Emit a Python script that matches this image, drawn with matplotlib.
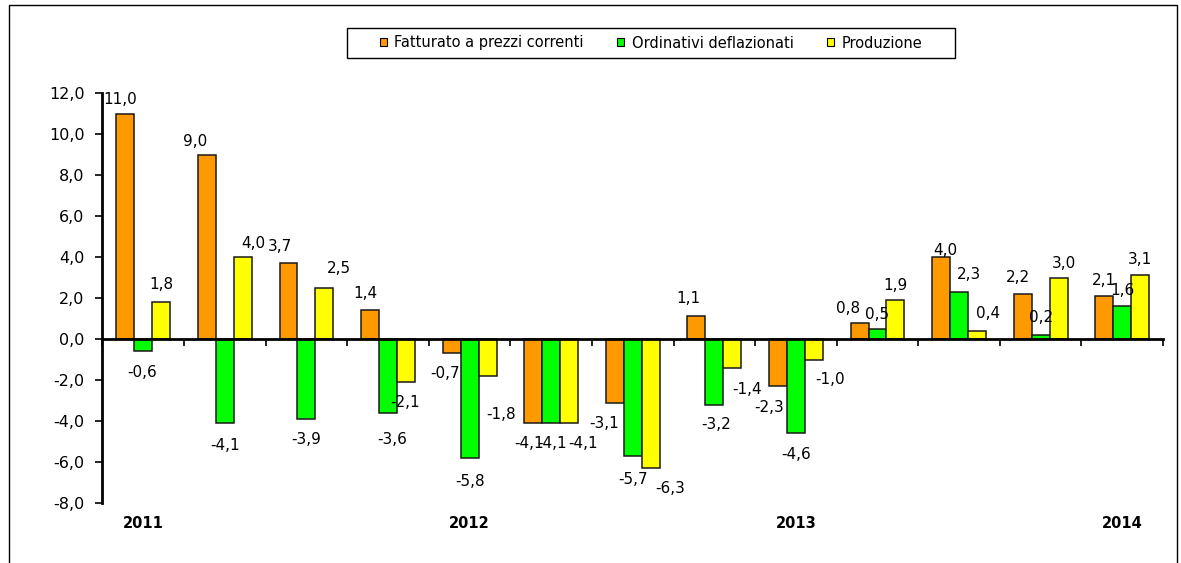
import matplotlib
matplotlib.use("Agg")
import matplotlib.pyplot as plt
import numpy as np
from matplotlib.patches import Rectangle

plt.rcParams['font.family'] = ['DejaVu Sans']

series_names = ["Fatturato a prezzi correnti", "Ordinativi deflazionati", "Produzione"]
fatturato = [11.0, 9.0, 3.7, 1.4, -0.7, -4.1, -3.1, 1.1, -2.3, 0.8, 4.0, 2.2, 2.1]
ordinativi = [-0.6, -4.1, -3.9, -3.6, -5.8, -4.1, -5.7, -3.2, -4.6, 0.5, 2.3, 0.2, 1.6]
produzione = [1.8, 4.0, 2.5, -2.1, -1.8, -4.1, -6.3, -1.4, -1.0, 1.9, 0.4, 3.0, 3.1]
categories = ["2011", "", "", "", "2012", "", "", "", "2013", "", "", "", "2014"]
yticks = [-8, -6, -4, -2, 0, 2, 4, 6, 8, 10, 12]
colors = ["#FF9900", "#00FF00", "#FFFF00"]

# label placement nudges (pixels): horizontal shift and gap from bar end
label_dx = [
    [-5, -12, -9, -5, -7, -4, -11, -8, -9, -11, 4, -5, 0],
    [-1, 0, 0, 4, 0, 1, 0, 2, 0, 0, 10, 0, 0],
    [0, 11, 15, -1, 14, 14, 19, 15, 16, 0, 11, 5, 0],
]
label_gap = [
    [10, 9, 12, 12, 13, 13, 13, 13, 14, 10, 2, 12, 11],
    [14, 15, 13, 19, 16, 13, 16, 12, 14, 10, 13, 13, 11],
    [13, 9, 15, 13, 31, 13, 13, 14, 13, 10, 13, 10, 11],
]

W, H = 1181, 563
fig = plt.figure(figsize=(W / 100, H / 100), dpi=100)
ax_left, ax_right = 102.5, 1163
y_top, y_bot = 93, 503
ax = fig.add_axes([ax_left / W, (H - y_bot) / H, (ax_right - ax_left) / W, (y_bot - y_top) / H])

n = len(categories)
x = np.arange(n)
w = 0.22
data = [fatturato, ordinativi, produzione]
for i, (vals, col, name) in enumerate(zip(data, colors, series_names)):
    xs = x + (i - 1) * w
    ax.bar(xs, vals, width=w, color=col, edgecolor="#1a1a1a", linewidth=1.1, label=name, zorder=2)
    for j, (xi, v) in enumerate(zip(xs, vals)):
        lab = f"{v:.1f}".replace(".", ",")
        dx = label_dx[i][j] * 0.72
        g = label_gap[i][j] * 0.72
        if v >= 0:
            ax.annotate(lab, (xi, v), xytext=(dx, g), textcoords="offset points",
                        ha="center", va="baseline", fontsize=11, zorder=3)
        else:
            ax.annotate(lab, (xi, v), xytext=(dx, -g), textcoords="offset points",
                        ha="center", va="top", fontsize=11, zorder=3)

ax.set_xlim(-0.5, n - 0.5)
ax.set_ylim(-8, 12)
ax.set_yticks(yticks)
ax.set_yticklabels([f"{t:.1f}".replace(".", ",") for t in yticks], fontsize=11.5)
ax.spines['top'].set_visible(False)
ax.spines['right'].set_visible(False)
ax.spines['bottom'].set_position(('data', 0))
ax.spines['bottom'].set_linewidth(2)
ax.spines['left'].set_linewidth(2)
ax.spines['bottom'].set_zorder(4)
ax.set_xticks(np.arange(-0.5, n + 0.5, 1.0))
ax.set_xticklabels([])
ax.tick_params(axis='x', direction='out', length=5, width=1.2)
ax.tick_params(axis='y', direction='out', length=5, width=1.2, pad=8)
ax.patch.set_visible(False)

for xi, c in zip(x, categories):
    if c:
        ax.annotate(c, (xi, -8), xytext=(0, -20 * 0.72), textcoords="offset points",
                    ha="center", va="center", fontsize=10.5, fontweight="bold")

# legend
leg = fig.legend(loc="center", bbox_to_anchor=(651 / W, 1 - 43 / H), ncol=3, frameon=False,
                 fontsize=10.5, handlelength=0.5, handleheight=0.5, handletextpad=0.5,
                 columnspacing=2.3)
for h in leg.legend_handles:
    h.set_edgecolor("black")
    h.set_linewidth(0.8)
fig.patches.append(Rectangle((347 / W, 1 - 58 / H), (955 - 347) / W, 30 / H,
                             transform=fig.transFigure, fill=False,
                             edgecolor="black", linewidth=1.0))

# outer frame
fig.patches.append(Rectangle((9 / W, -0.01), (1177 - 9) / W, 1.0 - 5 / H + 0.01,
                             transform=fig.transFigure, fill=False,
                             edgecolor="black", linewidth=1.0))

fig.savefig("out.png", dpi=100)
